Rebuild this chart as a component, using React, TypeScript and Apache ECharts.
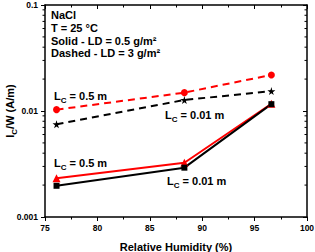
import React, { useEffect, useRef } from "react";
import * as echarts from "echarts";

const rhValues = [76.1, 88.3, 96.6];
const dashedRed05 = [0.0103, 0.0149, 0.0219];
const dashedBlack001 = [0.0075, 0.0127, 0.0154];
const solidRed05 = [0.00232, 0.00325, 0.0117];
const solidBlack001 = [0.00197, 0.00292, 0.0116];
const xTicks = { min: 75, max: 100, interval: 5 };
const yRange = { min: 0.001, max: 0.1 };
const minorLogVals = [2, 3, 4, 5, 6, 7, 8, 9].flatMap((m) => [m * 0.001, m * 0.01]);

const FONT = "'Liberation Sans', Arial, sans-serif";
const STAR =
  "path://M50,0 L61,35 L98,35 L68,57 L79,91 L50,70 L21,91 L32,57 L2,35 L39,35 Z";

const pairs = (ys: number[]) => rhValues.map((x, i) => [x, ys[i]]);

const subRich = (color: string) => ({
  n: { fontSize: 11, fontWeight: "bold", fontFamily: FONT, color, lineHeight: 11, verticalAlign: "top" },
  s: { fontSize: 8, fontWeight: "bold", fontFamily: FONT, color, lineHeight: 8, verticalAlign: "top", padding: [6, 0, 0, 0] },
});

export default function App() {
  const ref = useRef<HTMLDivElement>(null);
  useEffect(() => {
    if (!ref.current) return;
    const chart = echarts.init(ref.current, null, { renderer: "svg" });
    const axisLine = { show: true, lineStyle: { color: "#000", width: 1.5 } };
    const labelStyle = { color: "#000", fontSize: 8.5, fontWeight: "bold", fontFamily: FONT };
    const lineText = (text: string, x: number, y: number) => ({
      type: "text",
      x,
      y,
      style: { text, fontSize: 11, fontWeight: "bold", fontFamily: FONT, fill: "#000", verticalAlign: "middle" },
    });
    const lcText = (val: string, x: number, y: number, color: string) => ({
      type: "text",
      x,
      y: y - 5.5,
      style: {
        text: `{n|L}{s|C}{n| = ${val}}`,
        rich: subRich(color),
        verticalAlign: "top",
      },
    });
    chart.setOption({
      animation: false,
      grid: { left: 45, right: 8, top: 5, bottom: 35, containLabel: false, outerBoundsMode: "none" },
      xAxis: [
        {
          type: "value",
          min: xTicks.min,
          max: xTicks.max,
          interval: xTicks.interval,
          name: "Relative Humidity (%)",
          nameLocation: "middle",
          nameGap: 24.5,
          nameMoveOverlap: false,
          nameTextStyle: { color: "#000", fontSize: 11, fontWeight: "bold", fontFamily: FONT },
          axisLine,
          axisTick: { show: true, inside: false, length: 4, lineStyle: { color: "#000", width: 1 } },
          minorTick: { show: true, splitNumber: 2, length: 2.5, lineStyle: { color: "#000", width: 1 } },
          axisLabel: { ...labelStyle, margin: 6.5 },
          splitLine: { show: false },
        },
        {
          type: "value",
          position: "top",
          min: xTicks.min,
          max: xTicks.max,
          interval: xTicks.interval,
          axisLine,
          axisTick: { show: true, inside: true, length: 4, lineStyle: { color: "#000", width: 1 } },
          minorTick: { show: true, splitNumber: 2, length: 2.5, lineStyle: { color: "#000", width: 1 } },
          axisLabel: { show: false },
          splitLine: { show: false },
        },
      ],
      yAxis: [
        {
          type: "log",
          logBase: 10,
          min: yRange.min,
          max: yRange.max,
          name: "{n|I}{s|C}{n|/W (A/m)}",
          nameLocation: "middle",
          nameGap: 30,
          nameMoveOverlap: false,
          nameTextStyle: { rich: subRich("#000") },
          axisLine,
          axisTick: { show: true, inside: false, length: 4, lineStyle: { color: "#000", width: 1 } },
          axisLabel: {
            ...labelStyle,
            margin: 7,
            formatter: (v: number) => String(Number(v.toPrecision(1))),
          },
          splitLine: { show: false },
        },
        {
          type: "log",
          logBase: 10,
          position: "right",
          min: yRange.min,
          max: yRange.max,
          axisLine,
          axisTick: { show: true, inside: true, length: 4, lineStyle: { color: "#000", width: 1 } },
          axisLabel: { show: false },
          splitLine: { show: false },
        },
      ],
      series: [
        {
          type: "custom",
          xAxisIndex: 0,
          yAxisIndex: 0,
          silent: true,
          clip: false,
          encode: { x: 0, y: 1 },
          data: minorLogVals.map((v) => [xTicks.min, v]),
          renderItem: (_p: any, api: any) => {
            const v = api.value(1);
            const pl = api.coord([xTicks.min, v]);
            const pr = api.coord([xTicks.max, v]);
            return {
              type: "group",
              children: [
                { type: "line", shape: { x1: pl[0], y1: pl[1], x2: pl[0] - 2.5, y2: pl[1] }, style: { stroke: "#000", lineWidth: 1 } },
                { type: "line", shape: { x1: pr[0], y1: pr[1], x2: pr[0] - 2.5, y2: pr[1] }, style: { stroke: "#000", lineWidth: 1 } },
              ],
            };
          },
        },
        {
          type: "line",
          data: pairs(dashedRed05),
          symbol: "circle",
          symbolSize: 7,
          itemStyle: { color: "#ff0000" },
          lineStyle: { color: "#ff0000", width: 2, type: [7, 5] },
        },
        {
          type: "line",
          data: pairs(dashedBlack001),
          symbol: STAR,
          symbolSize: 8,
          itemStyle: { color: "#000" },
          lineStyle: { color: "#000", width: 2, type: [7, 5] },
        },
        {
          type: "line",
          data: pairs(solidRed05),
          symbol: "triangle",
          symbolSize: 8,
          itemStyle: { color: "#ff0000" },
          lineStyle: { color: "#ff0000", width: 2 },
        },
        {
          type: "line",
          data: pairs(solidBlack001),
          symbol: "rect",
          symbolSize: 6,
          itemStyle: { color: "#000" },
          lineStyle: { color: "#000", width: 2 },
        },
      ],
      graphic: [
        lineText("NaCl", 51, 15),
        lineText("T = 25 °C", 51, 27.5),
        lineText("Solid - LD = 0.5 g/m²", 51, 40.5),
        lineText("Dashed - LD = 3 g/m²", 51, 53),
        lcText("0.5 m", 54, 96, "#ff0000"),
        lcText("0.01 m", 165, 115, "#000"),
        lcText("0.5 m", 54, 162.7, "#ff0000"),
        lcText("0.01 m", 167, 180.7, "#000"),
      ],
    });
    return () => chart.dispose();
  }, []);
  return (
    <div
      ref={ref}
      style={{ position: "fixed", left: 0, top: 0, width: 315, height: 252, background: "#fff" }}
    />
  );
}
